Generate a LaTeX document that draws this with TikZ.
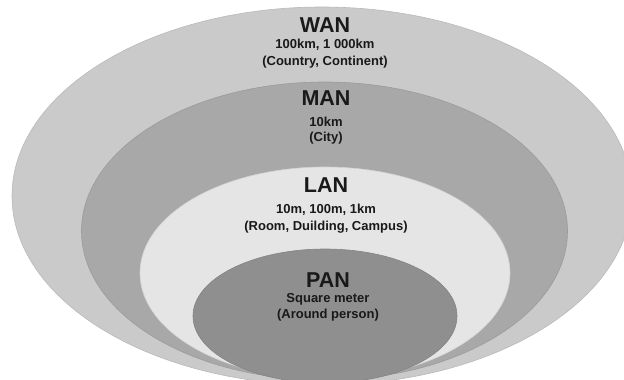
\documentclass[tikz,border=0pt]{standalone}
\usepackage{fontspec}
\setmainfont{Liberation Sans}
\begin{document}
\begin{tikzpicture}[x=1pt,y=-1pt,
  ring/.style={line width=0.6pt},
  ttl/.style={font=\bfseries\fontsize{21.5}{24}\selectfont, text=black!90, inner sep=0pt},
  sub/.style={font=\bfseries\fontsize{13}{#1}\selectfont, text=black!90, align=center, inner sep=0pt},
]
\definecolor{wanc}{HTML}{CACACA}
\definecolor{manc}{HTML}{A8A8A8}
\definecolor{lanc}{HTML}{E5E5E5}
\definecolor{panc}{HTML}{8F8F8F}
\useasboundingbox (0,0) rectangle (624,380);
\fill[white] (0,0) rectangle (624,380);
\begin{scope}
\clip (0,0) rectangle (624,380);
\fill[wanc, draw=wanc!92!black, ring] (322,196) ellipse [x radius=310, y radius=189];
\fill[manc, draw=manc!92!black, ring] (324.5,231) ellipse [x radius=243, y radius=149];
\fill[lanc, draw=lanc!92!black, ring] (325,273) ellipse [x radius=185, y radius=106];
\fill[panc, draw=panc!92!black, ring] (325,316) ellipse [x radius=132, y radius=67];
\end{scope}
\node[ttl] (wan) at (325,25) {WAN};
\node[sub=17] (wans) at (325,53.5) {100km, 1 000km\\(Country, Continent)};
\node[ttl] (man) at (326,98) {MAN};
\node[sub=15.5] (mans) at (326,130.5) {10km\\(City)};
\node[ttl] (lan) at (326,185) {LAN};
\node[sub=17] (lans) at (326,218.5) {10m, 100m, 1km\\(Room, Duilding, Campus)};
\node[ttl] (pan) at (328,280) {PAN};
\node[sub=15.5] (pans) at (328,307.5) {Square meter\\(Around person)};
\end{tikzpicture}
\end{document}
